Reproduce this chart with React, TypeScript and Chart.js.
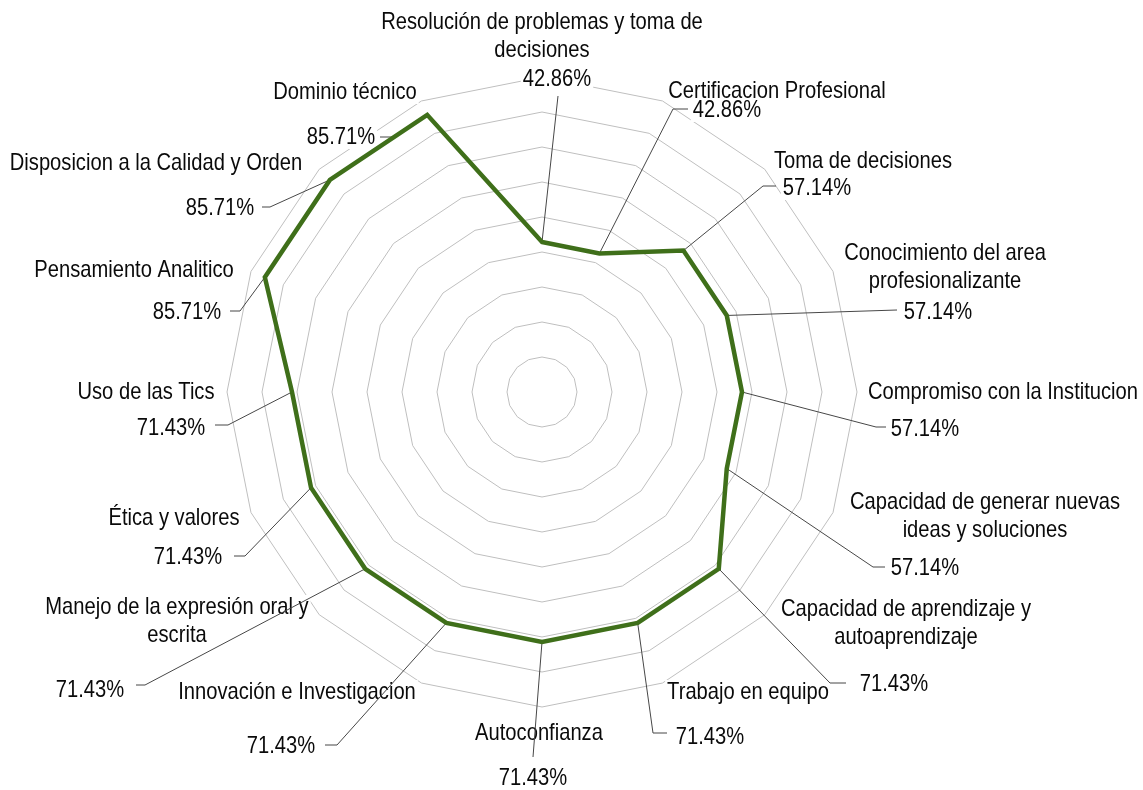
import React, { useEffect, useRef } from "react";
import { Chart, registerables } from "chart.js";

Chart.register(...registerables);

// ---- Data ----
const categories: string[] = [
  "Resolución de problemas y toma de decisiones",
  "Certificacion Profesional",
  "Toma de decisiones",
  "Conocimiento del area profesionalizante",
  "Compromiso con la Institucion",
  "Capacidad de generar nuevas ideas y soluciones",
  "Capacidad de aprendizaje y autoaprendizaje",
  "Trabajo en equipo",
  "Autoconfianza",
  "Innovación e Investigacion",
  "Manejo de la expresión oral y escrita",
  "Ética y valores",
  "Uso de las Tics",
  "Pensamiento Analitico",
  "Disposicion a la Calidad y Orden",
  "Dominio técnico",
];

const values: number[] = [
  42.86, 42.86, 57.14, 57.14, 57.14, 57.14, 71.43, 71.43,
  71.43, 71.43, 71.43, 71.43, 71.43, 85.71, 85.71, 85.71,
];

const axisMin = 0;
const axisMax = 90;
const axisStep = 10;

// words kept on the first line of each label (0 = single line)
const nameBreaks: number[] = [6, 0, 0, 3, 0, 4, 4, 0, 0, 0, 6, 0, 0, 0, 0, 0];

// ---- Layout of the callouts (offsets from the radar centre, px) ----
type Pt = [number, number];
interface LabelLayout { name: Pt; value: Pt; leader: Pt[] }
const labelLayout: LabelLayout[] = [
  { name: [0, -370], value: [15, -313], leader: [[16, -296]] },
  { name: [235, -301], value: [185, -282], leader: [[131, -283], [146, -283]] },
  { name: [321, -231], value: [275, -204], leader: [[221, -206], [234, -206]] },
  { name: [403, -139], value: [396, -80], leader: [[355, -82]] },
  { name: [461, 0], value: [383, 37], leader: [[334, 35], [344, 35]] },
  { name: [443, 110], value: [383, 176], leader: [[331, 175], [343, 175]] },
  { name: [364, 217], value: [352, 292], leader: [[288, 291], [304, 291]] },
  { name: [206, 300], value: [168, 345], leader: [[111, 341], [125, 341]] },
  { name: [-3, 341], value: [-9, 386], leader: [[-9, 365]] },
  { name: [-245, 300], value: [-261, 354], leader: [[-205, 353], [-217, 353]] },
  { name: [-365, 215], value: [-452, 298], leader: [[-397, 293], [-406, 293]] },
  { name: [-368, 126], value: [-354, 165], leader: [[-297, 164], [-308, 164]] },
  { name: [-396, 0], value: [-371, 36], leader: [[-314, 33], [-327, 33]] },
  { name: [-408, -122], value: [-355, -80], leader: [[-302, -81], [-312, -81]] },
  { name: [-386, -229], value: [-322, -184], leader: [[-272, -185], [-280, -185]] },
  { name: [-197, -300], value: [-201, -255], leader: [[-147, -255], [-162, -255]] },
];

const FONT = '24px "Liberation Sans", Arial, sans-serif';
const SCALE_X = 0.84; // condensed look
const LINE_H = 28;
const TEXT_COLOR = "#0a0a0a";
const LEADER_COLOR = "#474747";
const GRID_COLOR = "#bfbfbf";
const LINE_COLOR = "#3f6f1a";

function splitName(name: string, n: number): string[] {
  if (!n) return [name];
  const w = name.split(" ");
  return [w.slice(0, n).join(" "), w.slice(n).join(" ")];
}

function fmtPct(v: number): string {
  return v.toFixed(2) + "%";
}

const calloutPlugin = {
  id: "callouts",
  beforeDatasetsDraw(chart: any) {
    const ctx: CanvasRenderingContext2D = chart.ctx;
    const scale = chart.scales.r;
    const cx = scale.xCenter;
    const cy = scale.yCenter;
    const meta = chart.getDatasetMeta(0);
    ctx.save();
    ctx.font = FONT;
    ctx.textAlign = "center";
    ctx.textBaseline = "middle";

    const items: { t: string; x: number; y: number }[] = [];
    labelLayout.forEach((lay, i) => {
      splitName(categories[i], nameBreaks[i]).forEach((t, k) => {
        items.push({ t, x: cx + lay.name[0], y: cy + lay.name[1] + k * LINE_H });
      });
      items.push({ t: fmtPct(values[i]), x: cx + lay.value[0], y: cy + lay.value[1] });
    });

    // white label boxes
    ctx.fillStyle = "#ffffff";
    items.forEach((o) => {
      const w = ctx.measureText(o.t).width * SCALE_X;
      ctx.fillRect(o.x - w / 2 - 2, o.y - 12, w + 4, 24);
    });

    // text
    ctx.fillStyle = TEXT_COLOR;
    items.forEach((o) => {
      ctx.save();
      ctx.translate(o.x, o.y);
      ctx.scale(SCALE_X, 1);
      ctx.fillText(o.t, 0, 0);
      ctx.restore();
    });

    // leader lines
    ctx.strokeStyle = LEADER_COLOR;
    ctx.lineWidth = 1;
    labelLayout.forEach((lay, i) => {
      const p = meta.data[i];
      ctx.beginPath();
      ctx.moveTo(p.x, p.y);
      lay.leader.forEach((q) => ctx.lineTo(cx + q[0], cy + q[1]));
      ctx.stroke();
    });
    ctx.restore();
  },
};

export default function App() {
  const ref = useRef<HTMLCanvasElement | null>(null);

  useEffect(() => {
    document.body.style.margin = "0";
    const canvas = ref.current;
    if (!canvas) return;
    const chart = new Chart(canvas, {
      type: "radar",
      data: {
        labels: categories,
        datasets: [
          {
            data: values,
            borderColor: LINE_COLOR,
            borderWidth: 4.5,
            pointRadius: 0,
            pointHoverRadius: 0,
            fill: false,
            tension: 0,
            borderJoinStyle: "miter",
          },
        ],
      },
      options: {
        animation: false,
        responsive: false,
        devicePixelRatio: 1,
        layout: { padding: { left: 227, right: 286, top: 77, bottom: 83 } },
        plugins: {
          legend: { display: false },
          tooltip: { enabled: false },
          title: { display: false },
        },
        scales: {
          r: {
            min: axisMin,
            max: axisMax,
            ticks: { display: false, stepSize: axisStep },
            grid: { color: GRID_COLOR, lineWidth: 1 },
            angleLines: { display: false },
            pointLabels: { display: false },
          },
        },
      },
      plugins: [calloutPlugin],
    });
    return () => chart.destroy();
  }, []);

  return (
    <div style={{ width: 1143, height: 790, background: "#fff" }}>
      <canvas ref={ref} width={1143} height={790} />
    </div>
  );
}
